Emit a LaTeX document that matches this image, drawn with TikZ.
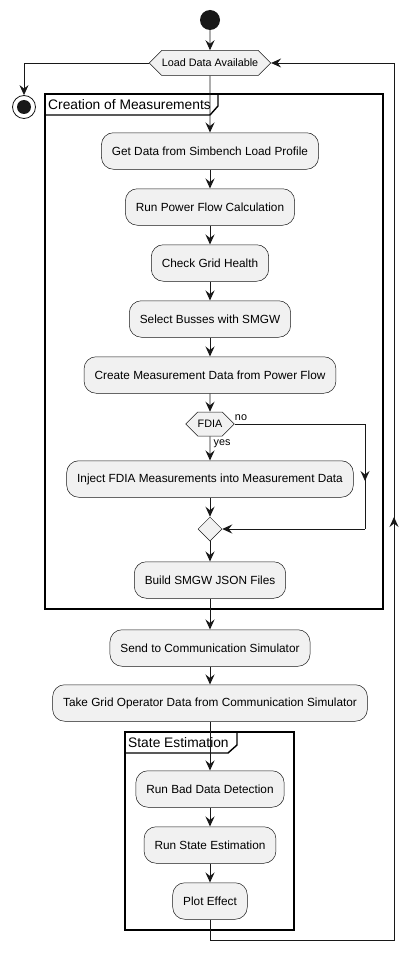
\documentclass[tikz,border=0pt]{standalone}
\usepackage{fontspec}
\setmainfont{Liberation Sans}
\usetikzlibrary{arrows.meta,shapes.geometric,shapes.symbols}
\definecolor{boxfill}{HTML}{F1F1F1}
\definecolor{boxline}{HTML}{181818}
\begin{document}
\begin{tikzpicture}[x=1pt,y=-1pt,
  act/.style={draw=boxline, line width=0.5pt, fill=boxfill, rounded corners=12pt,
    minimum height=36.5pt, inner xsep=10.5pt, font=\fontsize{11.8}{13}\selectfont},
  cond/.style={draw=boxline, line width=0.5pt, fill=boxfill, signal, signal to=east and west,
    signal pointer angle=90, inner xsep=0pt, font=\fontsize{10.8}{12}\selectfont},
  flow/.style={draw=boxline, line width=0.9pt, -{Stealth[length=10pt,width=9pt,inset=3.5pt]}},
  plain/.style={draw=boxline, line width=0.9pt},
  frame/.style={draw=black, line width=1.4pt},
  ftitle/.style={anchor=west, inner sep=0pt, font=\fontsize{13.8}{15}\selectfont},
  lbl/.style={inner sep=0pt, font=\fontsize{10.8}{12}\selectfont}
]
\useasboundingbox[fill=white] (0,0) rectangle (419,963);

% frames
\draw[frame] (45,94) rectangle (383,609);
\draw[frame] (45,115) -- (210,115) -- (218,106) -- (218,94);
\node[ftitle] (t1) at (48,105) {Creation of Measurements};
\draw[frame] (125,732) rectangle (294,930);
\draw[frame] (125,753) -- (228,753) -- (237,745) -- (237,732);
\node[ftitle] (t2) at (128,743) {State Estimation};

% nodes
\node[circle, fill=boxline, minimum size=20pt, inner sep=0pt] (start) at (210,20) {};
\node[cond, minimum height=25pt] (load) at (210,63) {Load Data Available};
\node[circle, draw=boxline, line width=0.8pt, fill=white, minimum size=23pt, inner sep=0pt] (stop) at (24,107) {};
\node[circle, fill=boxline, minimum size=14pt, inner sep=0pt] (stopin) at (stop.center) {};

\node[act] (get) at (210,151) {Get Data from Simbench Load Profile};
\node[act] (pf) at (210,207) {Run Power Flow Calculation};
\node[act] (health) at (210,263) {Check Grid Health};
\node[act] (busses) at (210,319) {Select Busses with SMGW};
\node[act] (create) at (210,375) {Create Measurement Data from Power Flow};
\node[cond, minimum height=24pt] (fdia) at (210,424) {FDIA};
\node[act] (inject) at (210,479) {Inject FDIA Measurements into Measurement Data};
\node[diamond, draw=boxline, line width=0.5pt, fill=boxfill, minimum width=24pt, minimum height=24pt, inner sep=0pt] (merge) at (210,529) {};
\node[act] (build) at (210,580) {Build SMGW JSON Files};
\node[act] (send) at (210,648) {Send to Communication Simulator};
\node[act] (take) at (210,703) {Take Grid Operator Data from Communication Simulator};
\node[act] (bad) at (210,789) {Run Bad Data Detection};
\node[act] (se) at (210,845) {Run State Estimation};
\node[act] (plot) at (210,901) {Plot Effect};

\node[lbl] (no) at (241,418) {no};
\node[lbl] (yes) at (222,444) {yes};

% coordinates
\coordinate (nA) at (365,424);
\coordinate (nB) at (365,481);
\coordinate (nC) at (365,529);
\coordinate (rA) at (210,940);
\coordinate (rB) at (394,940);
\coordinate (rC) at (394,517);
\coordinate (rD) at (394,63);

% connectors
\draw[flow] (start) -- (load);
\draw[flow] (load.west) -| (stop.north);
\draw[flow] (load) -- (get);
\draw[flow] (get) -- (pf);
\draw[flow] (pf) -- (health);
\draw[flow] (health) -- (busses);
\draw[flow] (busses) -- (create);
\draw[flow] (create) -- (fdia);
\draw[flow] (fdia) -- (inject);
\draw[plain] (fdia.east) -- (nA) -- (nB);
\draw[flow] (nA) -- (nB);
\draw[plain] (nB) -- (nC);
\draw[flow] (nC) -- (merge.east);
\draw[flow] (inject) -- (merge);
\draw[flow] (merge) -- (build);
\draw[flow] (build) -- (send);
\draw[flow] (send) -- (take);
\draw[flow] (take) -- (bad);
\draw[flow] (bad) -- (se);
\draw[flow] (se) -- (plot);
\draw[plain] (plot.south) -- (rA) -- (rB) -- (rC);
\draw[flow] (rB) -- (rC);
\draw[plain] (rC) -- (rD);
\draw[flow] (rD) -- (load.east);
\end{tikzpicture}
\end{document}
